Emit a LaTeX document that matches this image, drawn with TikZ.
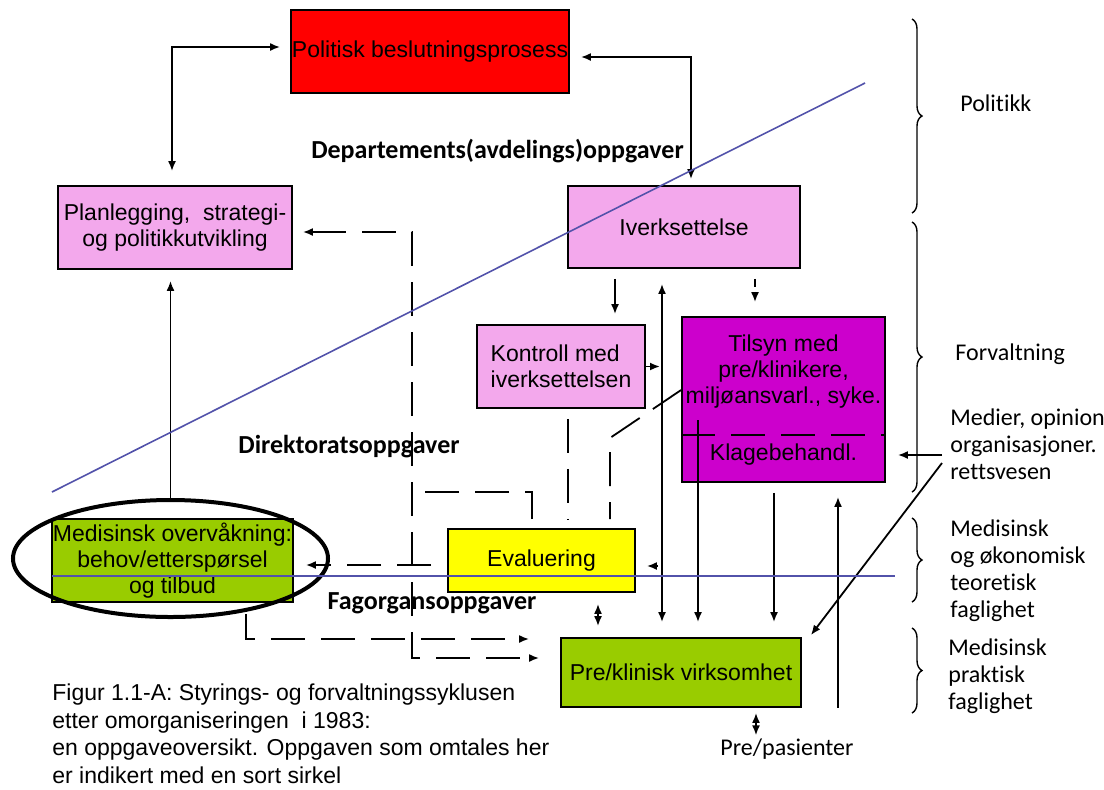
\documentclass[tikz,border=0pt]{standalone}
\usepackage{fontspec}
\setmainfont{Liberation Sans}
\newfontfamily\carlitofam[Ligatures=NoCommon]{Carlito}
\usepackage{tikz}
\usepackage{xcolor}
\usetikzlibrary{arrows.meta,shapes.geometric,decorations.pathreplacing}
\definecolor{polred}{HTML}{FF0000}
\definecolor{lilac}{HTML}{F3A8EC}
\definecolor{magbox}{HTML}{CC00CC}
\definecolor{evyellow}{HTML}{FFFF00}
\definecolor{fieldgreen}{HTML}{99CC00}
\definecolor{lineblue}{HTML}{5252AA}
\newcommand{\bxfont}{\fontsize{11.5}{13}\selectfont}
\newcommand{\sdfont}{\carlitofam\fontsize{12}{13.5}\selectfont}
\newcommand{\tierfont}{\carlitofam\bfseries\fontsize{13}{15}\selectfont}
\newcommand{\capfont}{\fontsize{11.5}{13.75}\selectfont}
\tikzset{
  taskbox/.style={draw=black,line width=0.9pt,inner sep=0pt,align=center,
                  font=\bxfont},
  sidelabel/.style={align=left,inner sep=0pt,font=\sdfont},
  tierlabel/.style={inner sep=0pt,font=\tierfont},
  solidarr/.style={-{Latex[length=5pt,width=4pt]},line width=0.9pt},
  twoarr/.style={{Latex[length=5pt,width=4pt]}-{Latex[length=5pt,width=4pt]},
                 line width=0.9pt},
  longdash/.style={line width=0.9pt,dash pattern=on 17pt off 8pt},
  shortdash/.style={line width=0.9pt,dash pattern=on 4pt off 2.5pt},
  tierline/.style={draw=lineblue,line width=0.8pt},
  bracebar/.style={decorate,decoration={brace,amplitude=5pt},line width=0.7pt}
}
\begin{document}
\begin{tikzpicture}[x=0.5pt,y=-0.5pt]
  \useasboundingbox (0,0) rectangle (1104,789);
  % boxes
  \node[taskbox,fill=polred,minimum width=139pt,minimum height=41.5pt]
    (pol) at (430,51.5) {Politisk beslutningsprosess};
  \node[taskbox,fill=lilac,minimum width=117pt,minimum height=41.5pt]
    (plan) at (175,227.5) {Planlegging,\ \ strategi-\\og politikkutvikling};
  \node[taskbox,fill=lilac,minimum width=116pt,minimum height=41pt]
    (iver) at (684,227) {Iverksettelse};
  \node[taskbox,fill=lilac,align=left,minimum width=84pt,minimum height=41.5pt]
    (kontr) at (561,366.5) {Kontroll med\\iverksettelsen};
  \node[taskbox,fill=magbox,minimum width=101.5pt,minimum height=82.5pt]
    (tils) at (783.5,399.5) {};
  \node[font=\bxfont,align=center,inner sep=0pt] (tilsT) at (783.5,371.5)
    {Tilsyn med\\pre/klinikere,\\miljøansvarl., syke.};
  \node[font=\bxfont,inner sep=0pt] (klage) at (783.5,455) {Klagebehandl.};
  \node[taskbox,fill=evyellow,minimum width=93.5pt,minimum height=31.5pt]
    (eval) at (541.5,560.5) {Evaluering};
  \node[taskbox,fill=fieldgreen,minimum width=120.5pt,minimum height=41.5pt]
    (mov) at (172.5,560.5) {Medisinsk overvåkning:\\behov/etterspørsel\\og tilbud};
  \node[taskbox,fill=fieldgreen,minimum width=120pt,minimum height=34.5pt]
    (pkv) at (681,672.5) {Pre/klinisk virksomhet};
  \node[draw,ellipse,line width=2pt,minimum width=157.5pt,minimum height=58.5pt,
    inner sep=0pt] (ring) at (170.5,558.5) {};

  % labels
  \node[tierlabel] (dep) at (497.5,151) {Departements(avdelings)oppgaver};
  \node[tierlabel] (dir) at (349,447) {Direktoratsoppgaver};
  \node[tierlabel] (fag) at (432,603) {Fagorgansoppgaver};
  \node[sidelabel,anchor=west] (polk) at (960,103) {Politikk};
  \node[sidelabel,anchor=west] (forv) at (955,354) {Forvaltning};
  \node[sidelabel,anchor=west] (med) at (950,444)
    {Medier, opinion\\organisasjoner.\\rettsvesen};
  \node[sidelabel,anchor=west] (teor) at (950,570.5)
    {Medisinsk\\og økonomisk\\teoretisk\\faglighet};
  \node[sidelabel,anchor=west] (prak) at (948,676.5)
    {Medisinsk\\praktisk\\faglighet};
  \node[sidelabel] (pas) at (787,749) {Pre/pasienter};
  \node[align=left,inner sep=0pt,font=\capfont,anchor=west] (cap) at (52,734)
    {Figur 1.1-A: Styrings- og forvaltningssyklusen\\
     etter omorganiseringen\ \ i 1983:\\
     en oppgaveoversikt. Oppgaven som omtales her\\
     er indikert med en sort sirkel};

  % braces
  \draw[bracebar] (912,19) -- (912,213);
  \draw[bracebar] (912,222) -- (912,492);
  \draw[bracebar] (912,518) -- (912,602);
  \draw[bracebar] (912,628) -- (912,713);

  % connectors
  \coordinate (vl) at (662,0);
  \coordinate (cA) at (412,232);
  \coordinate (cB) at (412,658);
  \coordinate (cC) at (412,492);
  \coordinate (cD) at (412,639);
  \coordinate (cE) at (610,438);
  \coordinate (tk) at (698,420);
  \coordinate (mk) at (942,455);
  \coordinate (mk2) at (942,463);

  \draw[twoarr,shorten <=7pt,shorten >=5pt]
    ([xshift=-1.5pt]plan.north) |- ([yshift=2.25pt]pol.west);
  \draw[twoarr,shorten <=5.5pt,shorten >=3pt]
    ([yshift=-2.75pt]pol.east) -| ([xshift=3.5pt]iver.north);
  \draw[solidarr,shorten >=5.5pt] (ring.north) -- (ring.north |- plan.south);

  \draw[solidarr,shorten <=5pt,shorten >=5pt]
    ([xshift=27pt]kontr.north |- iver.south) -- ([xshift=27pt]kontr.north);
  \draw[twoarr,shorten <=7.5pt,shorten >=7.5pt] (iver.south -| vl) -- (pkv.north -| vl);
  \draw[solidarr,shorten >=1pt] (kontr.east) -- (kontr.east -| vl);
  \draw[solidarr,shortdash,shorten <=5pt,shorten >=7pt]
    ([xshift=-14.25pt]tils.north |- iver.south) -- ([xshift=-14.25pt]tils.north);
  \draw[solidarr,shorten >=7.5pt] (tk) -- (tk |- pkv.north);
  \draw[solidarr,shorten <=5pt,shorten >=7.5pt]
    ([xshift=-4.75pt]tils.south) -- ([xshift=-4.75pt]tils.south |- pkv.north);
  \draw[solidarr,shorten >=7pt]
    ([xshift=27.25pt]tils.south |- pkv.south) -- ([xshift=27.25pt]tils.south);
  \draw[solidarr,shorten >=6pt] (mk) -- (mk -| tils.east);
  \draw[solidarr] (mk2) -- ([xshift=4.5pt,yshift=1pt]pkv.north east);

  \draw[twoarr,shorten <=5.5pt,shorten >=5.5pt]
    ([xshift=28.25pt]eval.south) -- ([xshift=28.25pt]eval.south |- pkv.north);
  \draw[solidarr] ([xshift=11pt,yshift=-2.75pt]eval.east)
    -- ([xshift=5.5pt,yshift=-2.75pt]eval.east);
  \draw[twoarr,shorten <=2.5pt,shorten >=1.5pt]
    ([xshift=-15.5pt]pas.north |- pkv.south) -- ([xshift=-15.5pt]pas.north);

  % dashed feedback
  \draw[twoarr,longdash,shorten <=5pt,shorten >=10.5pt]
    (plan.east |- cA) -- (cA) -- (cB) -- (cB -| pkv.west);
  \draw[longdash,shorten <=4.5pt] ([xshift=-4.75pt]eval.north) |- (cC);
  \draw[solidarr,longdash,shorten <=8pt,shorten >=6pt]
    ([yshift=-2.25pt]eval.west) -- ([yshift=-2.25pt]eval.west -| mov.east);
  \draw[solidarr,longdash,shorten <=5.5pt,shorten >=15.5pt]
    ([xshift=36.75pt]mov.south) |- (cD -| pkv.west);
  \draw[longdash,shorten <=5pt,shorten >=4.5pt]
    ([xshift=3.5pt]kontr.south) -- ([xshift=3.5pt]kontr.south |- eval.north);
  \draw[longdash,shorten >=4.5pt]
    ([yshift=4.75pt]tils.west) -- (cE) -- (cE |- eval.north);
  \draw[longdash] ([yshift=-17.75pt]tils.west) -- ([yshift=-17.75pt]tils.east);

  % tier lines
  \draw[tierline] (52,492) -- (865,83);
  \draw[tierline] (52,576) -- (895,576);
\end{tikzpicture}
\end{document}
